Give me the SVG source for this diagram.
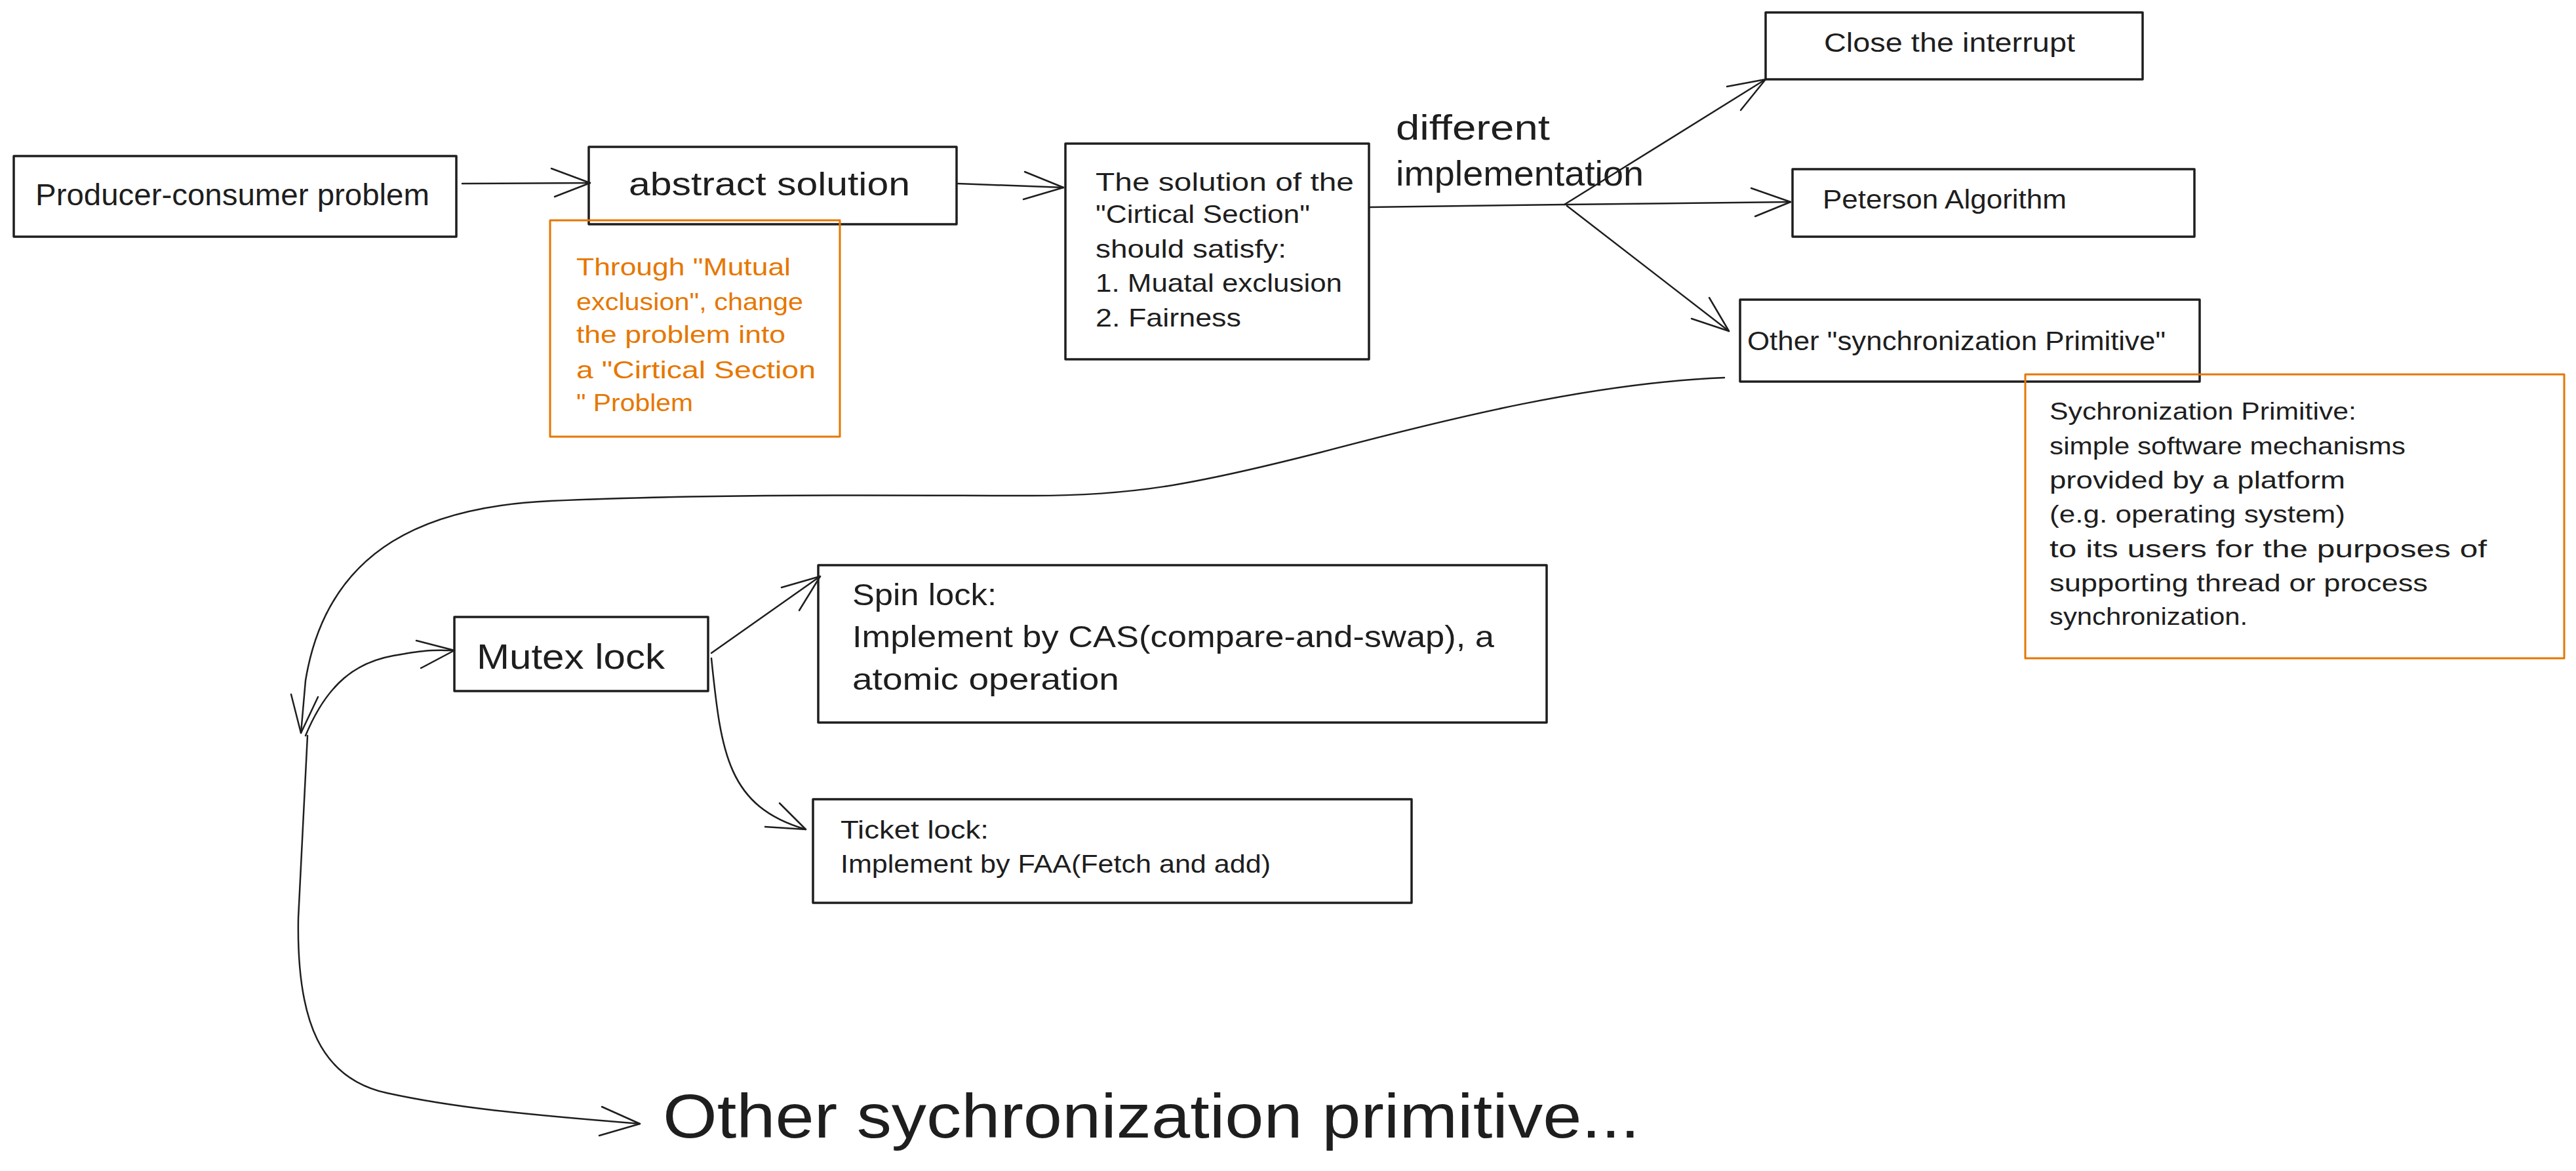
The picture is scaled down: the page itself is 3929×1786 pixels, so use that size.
<svg xmlns="http://www.w3.org/2000/svg" width="3929" height="1786" viewBox="0 0 3929 1786">
<style>
.box{fill:none;stroke:#1e1e1e;stroke-width:3.5;stroke-linejoin:round}
.note{fill:none;stroke:#e67700;stroke-width:3;stroke-linejoin:round}
.edge{fill:none;stroke:#1e1e1e;stroke-width:2.5;stroke-linecap:round;stroke-linejoin:round}
.t{font-family:"Liberation Sans",Arial,sans-serif;fill:#1e1e1e}
.o{fill:#e67700}
</style>
<rect x="0" y="0" width="3929" height="1786" fill="#ffffff"/>

<g id="connectors">
  <!-- producer -> abstract -->
  <path class="edge" d="M705,280 L900,279"/>
  <polyline class="edge" points="841,257 900,279 846,300"/>
  <!-- abstract -> solution -->
  <path class="edge" d="M1461,280 L1622,286"/>
  <polyline class="edge" points="1563,262 1622,286 1561,304"/>
  <!-- solution -> Peterson -->
  <path class="edge" d="M2089,316 L2386,312 L2731,308"/>
  <polyline class="edge" points="2671,287 2731,308 2677,330"/>
  <!-- branch -> Close the interrupt -->
  <path class="edge" d="M2386,312 L2693,121"/>
  <polyline class="edge" points="2634,132 2693,121 2655,168"/>
  <!-- branch -> Other synchronization primitive -->
  <path class="edge" d="M2390,314 L2637,505"/>
  <polyline class="edge" points="2580,486 2637,505 2607,454"/>
  <!-- Other box -> junction -->
  <path class="edge" d="M2630,576 C2430,584 2214,637 2014,690 C1814,741 1724,756 1574,756 C1400,756 1100,752 840,764 C660,772 500,830 466,1038 L459,1118"/>
  <polyline class="edge" points="444,1059 459,1118 485,1063"/>
  <!-- junction -> Mutex lock -->
  <path class="edge" d="M466,1122 C500,1040 545,1010 600,1000 S660,992 693,992"/>
  <polyline class="edge" points="635,977 693,992 642,1019"/>
  <!-- Mutex -> Spin -->
  <path class="edge" d="M1085,996 L1251,879"/>
  <polyline class="edge" points="1192,896 1251,879 1219,931"/>
  <!-- Mutex -> Ticket -->
  <path class="edge" d="M1085,1004 C1100,1150 1110,1230 1229,1265"/>
  <polyline class="edge" points="1167,1261 1229,1265 1189,1225"/>
  <!-- junction -> Other sychronization primitive... -->
  <path class="edge" d="M469,1122 L455,1400 C452,1560 490,1645 590,1667 S800,1700 976,1714"/>
  <polyline class="edge" points="918,1688 976,1714 914,1732"/>
</g>

<g id="producer">
  <rect class="box" x="21" y="238" width="675" height="123"/>
  <text class="t" x="54" y="313" font-size="46" textLength="601" lengthAdjust="spacingAndGlyphs">Producer-consumer problem</text>
</g>

<g id="abstract">
  <rect class="box" x="898" y="224" width="561" height="118"/>
  <text class="t" x="959" y="298" font-size="50" textLength="429" lengthAdjust="spacingAndGlyphs">abstract solution</text>
</g>

<g id="mutual-note">
  <rect class="note" x="839" y="336" width="442" height="330"/>
  <text class="t o" x="879" y="420" font-size="37" textLength="327" lengthAdjust="spacingAndGlyphs">Through "Mutual</text>
  <text class="t o" x="879" y="473" font-size="37" textLength="346" lengthAdjust="spacingAndGlyphs">exclusion", change</text>
  <text class="t o" x="879" y="523" font-size="37" textLength="319" lengthAdjust="spacingAndGlyphs">the problem into</text>
  <text class="t o" x="879" y="577" font-size="37" textLength="365" lengthAdjust="spacingAndGlyphs">a "Cirtical Section</text>
  <text class="t o" x="879" y="627" font-size="37" textLength="178" lengthAdjust="spacingAndGlyphs">" Problem</text>
</g>

<g id="solution">
  <rect class="box" x="1625" y="219" width="463" height="329"/>
  <text class="t" x="1671" y="291" font-size="39" textLength="394" lengthAdjust="spacingAndGlyphs">The solution of the</text>
  <text class="t" x="1671" y="340" font-size="39" textLength="327" lengthAdjust="spacingAndGlyphs">"Cirtical Section"</text>
  <text class="t" x="1671" y="393" font-size="39" textLength="291" lengthAdjust="spacingAndGlyphs">should satisfy:</text>
  <text class="t" x="1671" y="445" font-size="39" textLength="376" lengthAdjust="spacingAndGlyphs">1. Muatal exclusion</text>
  <text class="t" x="1671" y="498" font-size="39" textLength="222" lengthAdjust="spacingAndGlyphs">2. Fairness</text>
</g>

<g id="different-label">
  <text class="t" x="2129" y="213" font-size="54" textLength="235" lengthAdjust="spacingAndGlyphs">different</text>
  <text class="t" x="2129" y="283" font-size="54" textLength="378" lengthAdjust="spacingAndGlyphs">implementation</text>
</g>

<g id="close-interrupt">
  <rect class="box" x="2693" y="19" width="575" height="102"/>
  <text class="t" x="2782" y="79" font-size="40" textLength="383" lengthAdjust="spacingAndGlyphs">Close the interrupt</text>
</g>

<g id="peterson">
  <rect class="box" x="2734" y="258" width="613" height="103"/>
  <text class="t" x="2780" y="318" font-size="40" textLength="372" lengthAdjust="spacingAndGlyphs">Peterson Algorithm</text>
</g>

<g id="other-primitive">
  <rect class="box" x="2654" y="457" width="701" height="125"/>
  <text class="t" x="2665" y="534" font-size="40" textLength="638" lengthAdjust="spacingAndGlyphs">Other "synchronization Primitive"</text>
</g>

<g id="primitive-note">
  <rect class="note" x="3089" y="571" width="822" height="433"/>
  <text class="t" x="3126" y="640" font-size="36" textLength="468" lengthAdjust="spacingAndGlyphs">Sychronization Primitive:</text>
  <text class="t" x="3126" y="693" font-size="36" textLength="543" lengthAdjust="spacingAndGlyphs">simple software mechanisms</text>
  <text class="t" x="3126" y="745" font-size="36" textLength="451" lengthAdjust="spacingAndGlyphs">provided by a platform</text>
  <text class="t" x="3126" y="797" font-size="36" textLength="451" lengthAdjust="spacingAndGlyphs">(e.g. operating system)</text>
  <text class="t" x="3126" y="850" font-size="36" textLength="667" lengthAdjust="spacingAndGlyphs">to its users for the purposes of</text>
  <text class="t" x="3126" y="902" font-size="36" textLength="577" lengthAdjust="spacingAndGlyphs">supporting thread or process</text>
  <text class="t" x="3126" y="953" font-size="36" textLength="302" lengthAdjust="spacingAndGlyphs">synchronization.</text>
</g>

<g id="mutex">
  <rect class="box" x="693" y="941" width="387" height="113"/>
  <text class="t" x="727" y="1020" font-size="54" textLength="287" lengthAdjust="spacingAndGlyphs">Mutex lock</text>
</g>

<g id="spin">
  <rect class="box" x="1248" y="862" width="1111" height="240"/>
  <text class="t" x="1300" y="923" font-size="47" textLength="220" lengthAdjust="spacingAndGlyphs">Spin lock:</text>
  <text class="t" x="1300" y="987" font-size="47" textLength="979" lengthAdjust="spacingAndGlyphs">Implement by CAS(compare-and-swap), a</text>
  <text class="t" x="1300" y="1052" font-size="47" textLength="407" lengthAdjust="spacingAndGlyphs">atomic operation</text>
</g>

<g id="ticket">
  <rect class="box" x="1240" y="1219" width="913" height="158"/>
  <text class="t" x="1282" y="1279" font-size="38" textLength="226" lengthAdjust="spacingAndGlyphs">Ticket lock:</text>
  <text class="t" x="1282" y="1331" font-size="38" textLength="656" lengthAdjust="spacingAndGlyphs">Implement by FAA(Fetch and add)</text>
</g>

<g id="other-sync">
  <text class="t" x="1011" y="1735" font-size="95" textLength="1490" lengthAdjust="spacingAndGlyphs">Other sychronization primitive...</text>
</g>
</svg>
